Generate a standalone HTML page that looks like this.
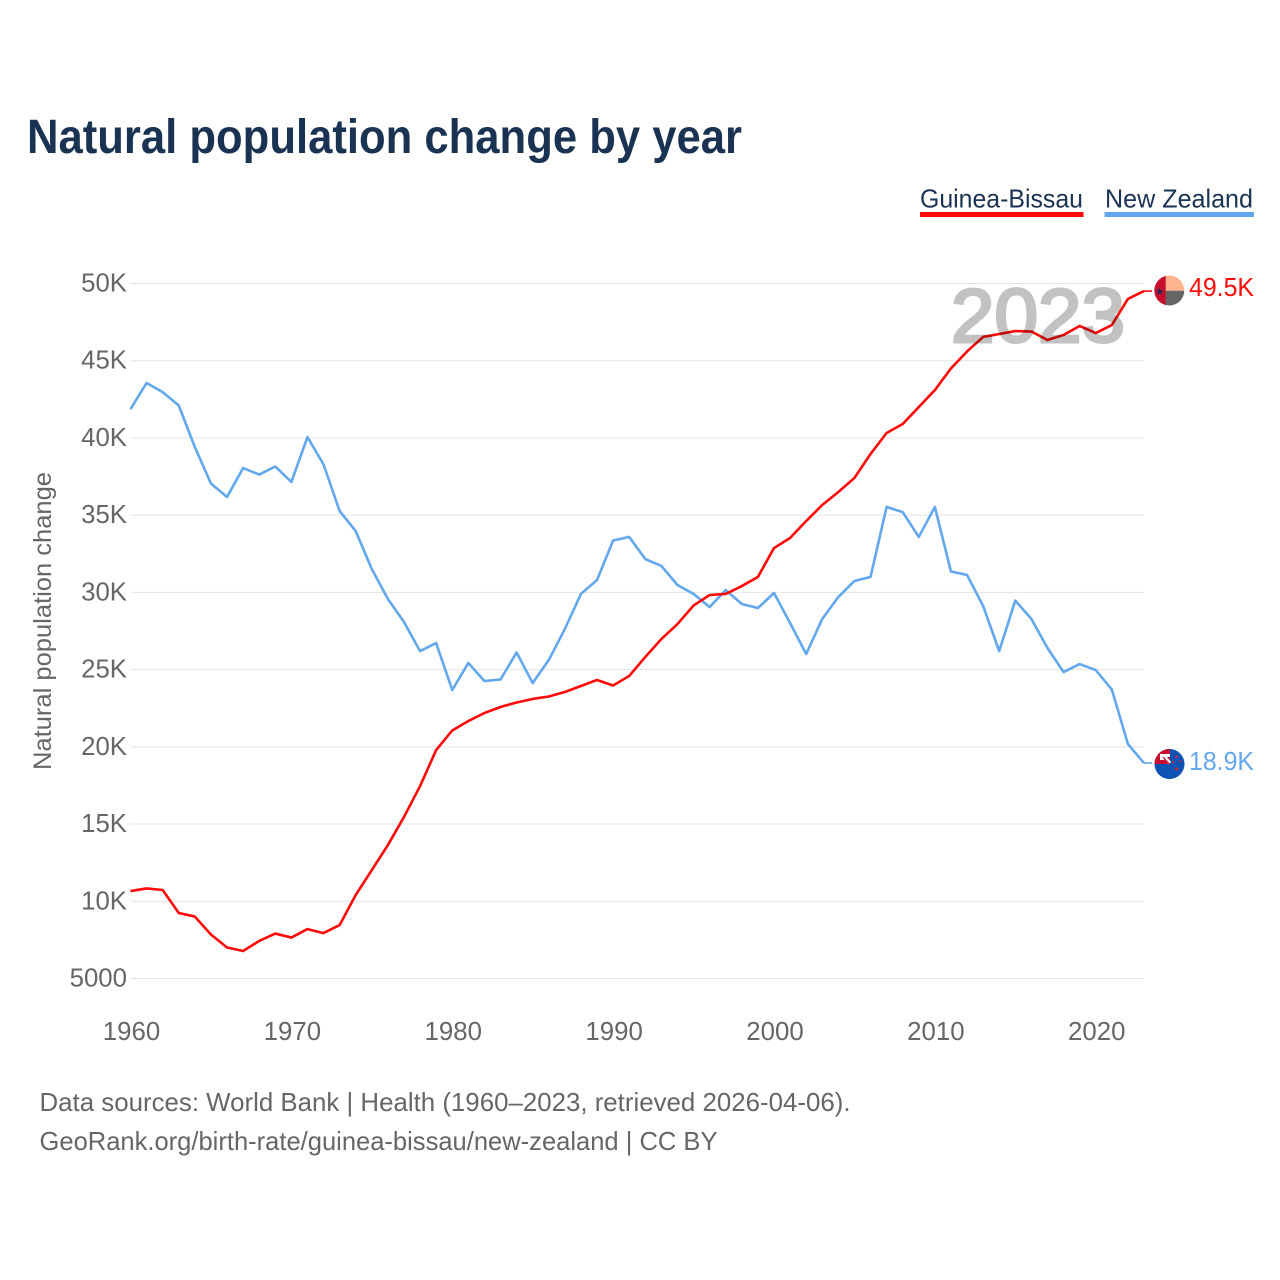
<!DOCTYPE html>
<html lang="en">
<head>
<meta charset="utf-8">
<title>Natural population change by year</title>
<style>
html,body{margin:0;padding:0;background:#fff;}
svg{display:block;font-family:"Liberation Sans",sans-serif;}
</style>
</head>
<body>
<svg id="chart" xmlns="http://www.w3.org/2000/svg" width="1280" height="1280" viewBox="0 0 1280 1280">
  <rect width="1280" height="1280" fill="#fff"/>
  <text x="27" y="153" font-size="48" font-weight="700" fill="#1a3353" textLength="715" lengthAdjust="spacingAndGlyphs">Natural population change by year</text>

  <g>
    <text x="920" y="207.500" font-size="26" fill="#1a3353" textLength="163" lengthAdjust="spacingAndGlyphs">Guinea-Bissau</text>
    <rect x="920" y="212" width="163.500" height="5" fill="#ff0a0a"/>
  </g>
  <g>
    <text x="1105" y="207.500" font-size="26" fill="#1a3353" textLength="148" lengthAdjust="spacingAndGlyphs">New Zealand</text>
    <rect x="1104.500" y="212" width="149.500" height="5" fill="#63a8ec"/>
  </g>

  <g id="grid"></g>
  <g id="yticks"></g>
  <g id="xticks"></g>
  <text transform="translate(51 621) rotate(-90)" text-anchor="middle" font-size="25" fill="#666" textLength="298" lengthAdjust="spacingAndGlyphs">Natural population change</text>

  <g id="series"></g>

  <text x="951" y="342" font-size="76" font-weight="400" fill="#000" stroke="#000" stroke-width="3" opacity="0.235" textLength="174" lengthAdjust="spacingAndGlyphs">2023</text>

  <g id="end-gb">
    <defs>
      <clipPath id="clip-gb"><circle cx="1169.300" cy="290.500" r="15"/></clipPath>
      <clipPath id="clip-nz"><circle cx="1169.500" cy="764" r="15"/></clipPath>
    </defs>
    <g clip-path="url(#clip-gb)">
      <rect x="1154" y="275" width="12" height="31" fill="#c8102e"/>
      <rect x="1165.700" y="275" width="19" height="15.700" fill="#ffb38e"/>
      <rect x="1165.700" y="290.700" width="19" height="16" fill="#666664"/>
      <polygon points="1159.700,287.600 1160.700,290.300 1163.500,290.300 1161.200,292.100 1162,295 1159.700,293.300 1157.400,295 1158.200,292.100 1155.900,290.300 1158.700,290.300" fill="#1a2a55"/>
    </g>
    <text x="1189" y="296" font-size="25.500" fill="#ff0a0a" textLength="65" lengthAdjust="spacingAndGlyphs">49.5K</text>
  </g>

  <g id="end-nz">
    <g clip-path="url(#clip-nz)">
      <rect x="1154" y="748" width="31" height="32" fill="#0b52b4"/>
      <rect x="1154" y="748" width="16" height="16" fill="#c8102e"/>
      <polygon points="1160,754 1170,754 1170,757 1167,757 1171,762 1169,764.500 1164,759 1164,764 1160,764" fill="#fff"/>
      <line x1="1163" y1="757" x2="1170" y2="764.500" stroke="#c8102e" stroke-width="1.200"/>
      <rect x="1154" y="760" width="10" height="4" fill="#c8102e"/>
      <circle cx="1176.500" cy="756.500" r="1.300" fill="#d8262c"/>
      <circle cx="1180.500" cy="761" r="1" fill="#d8262c"/>
      <circle cx="1173" cy="762" r="1.100" fill="#d8262c"/>
      <circle cx="1176.500" cy="769" r="1.500" fill="#d8262c"/>
    </g>
    <text x="1189" y="770" font-size="25.500" fill="#63a8ec" textLength="65" lengthAdjust="spacingAndGlyphs">18.9K</text>
  </g>

  <text x="39.500" y="1111" font-size="26" fill="#666" textLength="811" lengthAdjust="spacingAndGlyphs">Data sources: World Bank | Health (1960–2023, retrieved 2026-04-06).</text>
  <text x="39.500" y="1150" font-size="26" fill="#666" textLength="678" lengthAdjust="spacingAndGlyphs">GeoRank.org/birth-rate/guinea-bissau/new-zealand | CC BY</text>
</svg>
<script>
const firstYear = 1960;
const yTickValues = [50000, 45000, 40000, 35000, 30000, 25000, 20000, 15000, 10000, 5000];
const yTickLabels = ["50K", "45K", "40K", "35K", "30K", "25K", "20K", "15K", "10K", "5000"];
const xTickValues = [1960, 1970, 1980, 1990, 2000, 2010, 2020];
const xTickLabels = ["1960", "1970", "1980", "1990", "2000", "2010", "2020"];
const guineaBissau = [
  10660, 10830, 10730, 9240, 9010, 7850, 7010, 6780, 7430, 7910,
  7650, 8200, 7940, 8460, 10410, 12020, 13640, 15460, 17460, 19790,
  21060, 21670, 22190, 22580, 22870, 23100, 23260, 23550, 23940, 24330,
  23970, 24590, 25820, 26980, 27950, 29150, 29830, 29900, 30410, 31000,
  32870, 33520, 34620, 35660, 36500, 37410, 38960, 40320, 40900, 42000,
  43100, 44500, 45600, 46540, 46730, 46920, 46890, 46340, 46670, 47250,
  46790, 47310, 49000, 49510
];
const newZealand = [
  41870, 43560, 42970, 42100, 39410, 37050, 36180, 38050, 37630, 38150,
  37150, 40060, 38280, 35270, 33970, 31510, 29570, 28080, 26200, 26720,
  23680, 25430, 24260, 24360, 26110, 24130, 25620, 27630, 29900, 30800,
  33360, 33590, 32160, 31710, 30480, 29900, 29050, 30150, 29250, 28990,
  29960, 28020, 26010, 28280, 29700, 30740, 31000, 35530, 35200, 33590,
  35530, 31350, 31130, 29120, 26200, 29470, 28280, 26400, 24840, 25360,
  24970, 23710, 20180, 18950
];

const SVG_NS = "http://www.w3.org/2000/svg";
function xScale(year) { return 130.5 + (year - 1960) * (1144 - 130.5) / 63; }
function yScale(value) { return 978.5 - (value - 5000) * (978.5 - 283.5) / 45000; }

const grid = document.getElementById("grid");
const yticks = document.getElementById("yticks");
const xticks = document.getElementById("xticks");
const series = document.getElementById("series");

yTickValues.forEach(function (v, i) {
  const line = document.createElementNS(SVG_NS, "line");
  
  
  line.setAttribute("x1", 130.5);
  line.setAttribute("x2", xScale(2023));
  line.setAttribute("y1", yScale(v));
  line.setAttribute("y2", yScale(v));
  line.setAttribute("stroke", "#e4e4e4");
  line.setAttribute("stroke-width", "1");
  grid.appendChild(line);

  const label = document.createElementNS(SVG_NS, "text");
  
  
  label.setAttribute("x", 127);
  label.setAttribute("y", yScale(v) + 8);
  label.setAttribute("text-anchor", "end");
  label.setAttribute("font-size", "25.8");
  label.setAttribute("fill", "#666");
  label.textContent = yTickLabels[i];
  yticks.appendChild(label);
});

xTickValues.forEach(function (year, i) {
  const label = document.createElementNS(SVG_NS, "text");
  
  
  label.setAttribute("x", xScale(year) + 1);
  label.setAttribute("y", 1040);
  label.setAttribute("text-anchor", "middle");
  label.setAttribute("font-size", "25.8");
  label.setAttribute("fill", "#666");
  label.textContent = xTickLabels[i];
  xticks.appendChild(label);
});

function drawSeries(values, color, name) {
  const pts = values.map(function (v, i) {
    return xScale(firstYear + i).toFixed(2) + "," + yScale(v).toFixed(2);
  }).join(" ");
  const line = document.createElementNS(SVG_NS, "polyline");
  
  
  line.setAttribute("points", pts);
  line.setAttribute("fill", "none");
  line.setAttribute("stroke", color);
  line.setAttribute("stroke-width", "2.6");
  line.setAttribute("stroke-linejoin", "round");
  series.appendChild(line);

  const last = values[values.length - 1];
  const lastX = xScale(firstYear + values.length - 1);
  const stub = document.createElementNS(SVG_NS, "line");
  
  
  stub.setAttribute("x1", lastX);
  stub.setAttribute("x2", lastX + 8);
  stub.setAttribute("y1", yScale(last));
  stub.setAttribute("y2", yScale(last));
  stub.setAttribute("stroke", color);
  stub.setAttribute("stroke-width", "1.6");
  series.appendChild(stub);
}
drawSeries(newZealand, "#63a8ec", "new-zealand-line");
drawSeries(guineaBissau, "#ff0a0a", "guinea-bissau-line");
</script>
</body>
</html>
